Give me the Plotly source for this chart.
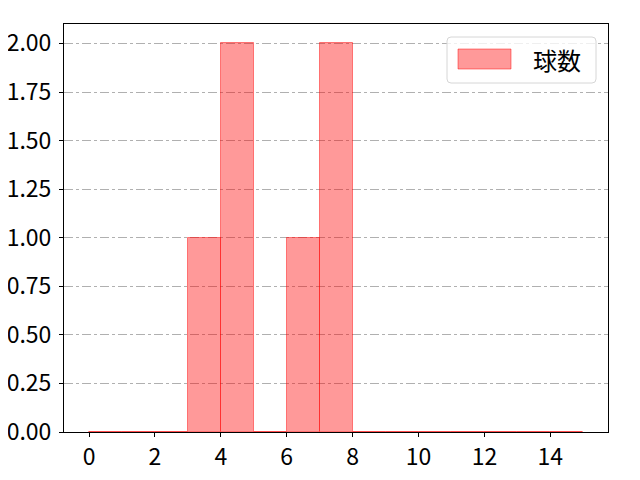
import plotly.graph_objects as go

# histogram bins (edges) and counts per bin
bin_edges = [0, 1, 2, 3, 4, 5, 6, 7, 8, 9, 10, 11, 12, 13, 14, 15]
counts = [0, 0, 0, 1, 2, 0, 1, 2, 0, 0, 0, 0, 0, 0, 0]
series_name = "球数"

x_ticks = [0, 2, 4, 6, 8, 10, 12, 14]
y_ticks = [0, 0.25, 0.5, 0.75, 1.0, 1.25, 1.5, 1.75, 2.0]

centers = [(a + b) / 2 for a, b in zip(bin_edges[:-1], bin_edges[1:])]
widths = [b - a for a, b in zip(bin_edges[:-1], bin_edges[1:])]

fill = "rgba(255,0,0,0.4)"
edge = "rgba(255,0,0,0.45)"

fig = go.Figure()
fig.add_trace(go.Bar(
    x=centers, y=counts, width=widths,
    name=series_name,
    marker=dict(color=fill, line=dict(color=edge, width=1)),
    showlegend=False,
))

# page body has an 8px margin, so the figure is 632x472 and sits at (8, 8)
OFF = 8
# plot area in window pixels: left 64, top 24, 544 x 408
W, H, L, T = 544, 408, 64, 24
def px(x): return (x - L) / W
def py(y): return (T + H - y) / H

# matplotlib-like legend drawn by hand (wide patch, rounded box)
bx0, bx1, by0, by1, r = 447, 596, 37, 83, 4
path = (f"M {px(bx0 + r)} {py(by0)} L {px(bx1 - r)} {py(by0)} "
        f"Q {px(bx1)} {py(by0)} {px(bx1)} {py(by0 + r)} "
        f"L {px(bx1)} {py(by1 - r)} Q {px(bx1)} {py(by1)} {px(bx1 - r)} {py(by1)} "
        f"L {px(bx0 + r)} {py(by1)} Q {px(bx0)} {py(by1)} {px(bx0)} {py(by1 - r)} "
        f"L {px(bx0)} {py(by0 + r)} Q {px(bx0)} {py(by0)} {px(bx0 + r)} {py(by0)} Z")
fig.add_shape(type="path", path=path, xref="paper", yref="paper",
              fillcolor="rgba(255,255,255,0.8)", line=dict(color="#d6d6d6", width=1))
fig.add_shape(type="rect", xref="paper", yref="paper",
              x0=px(458), x1=px(511), y0=py(69), y1=py(49),
              fillcolor=fill, line=dict(color=edge, width=1))
fig.add_annotation(x=px(531), y=py(59), xref="paper", yref="paper",
                   text=series_name, showarrow=False, xanchor="left",
                   yanchor="middle", font=dict(size=24))

font = "Noto Sans CJK JP"
fig.update_layout(
    width=640 - OFF, height=480 - OFF,
    margin=dict(l=L - OFF, r=640 - L - W, t=T - OFF, b=480 - T - H, autoexpand=False),
    paper_bgcolor="white", plot_bgcolor="white",
    font=dict(family=font, size=23, color="black"),
    bargap=0,
)
fig.update_xaxes(
    range=[-0.76, 15.75], tickvals=x_ticks, automargin=False,
    showline=True, linecolor="black", linewidth=1, mirror=True,
    ticks="outside", ticklen=4, tickcolor="black",
    showgrid=False, zeroline=False,
)
fig.update_yaxes(
    range=[0, 2.1], tickvals=y_ticks, tickformat=".2f", automargin=False,
    showline=True, linecolor="black", linewidth=1, mirror=True,
    ticks="outside", ticklen=4, tickcolor="black", ticklabelstandoff=3,
    showgrid=True, gridcolor="#b0b0b0", griddash="dashdot", gridwidth=1,
    zeroline=False,
)

fig.write_html("out.html")
